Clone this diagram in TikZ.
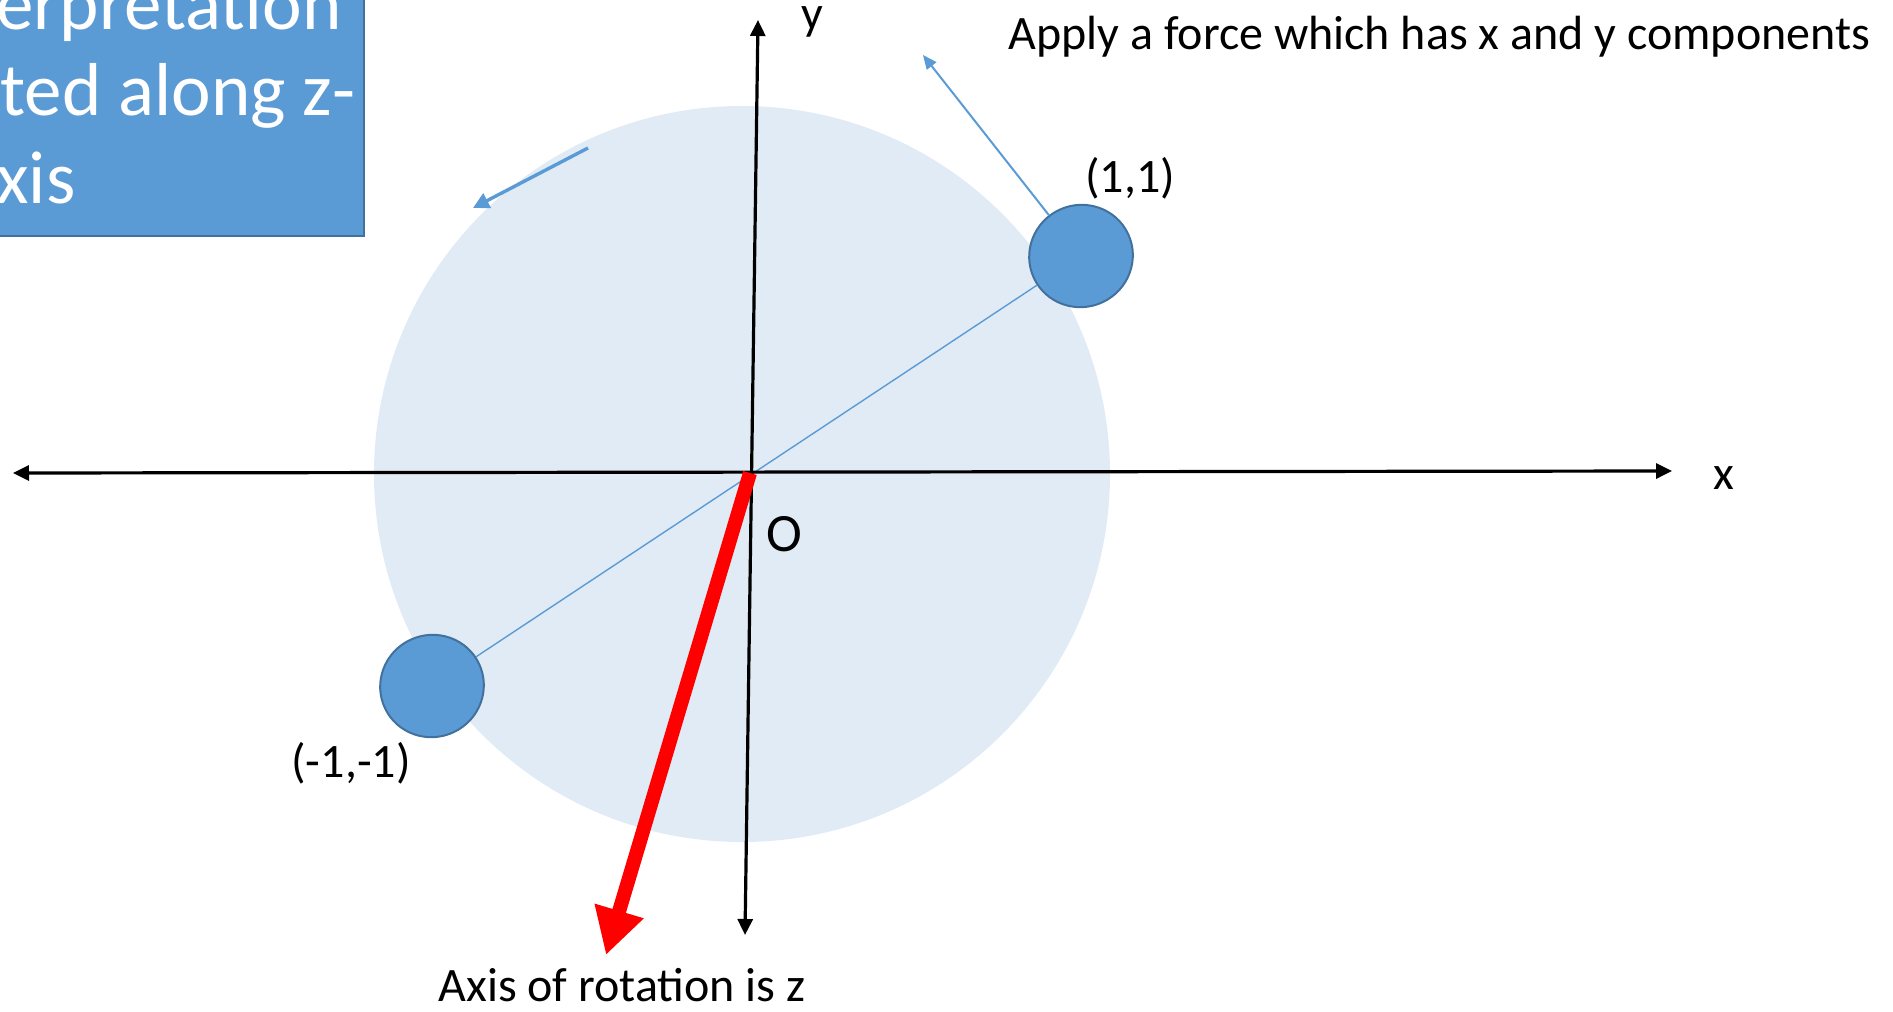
\documentclass[tikz,border=0pt]{standalone}
\usepackage{fontspec}
\setmainfont{Carlito}
\usepackage{tikz}
\usetikzlibrary{shapes.geometric, arrows.meta, positioning, calc}
\definecolor{Office_Blue}{HTML}{5B9BD5}
\definecolor{Office_Edge}{HTML}{41719C}
\definecolor{Disc_Blue}{HTML}{E1EBF6}
\definecolor{Axis_Red}{HTML}{FF0000}

\tikzset{
  axisline/.style={line width=1.6pt, {Triangle[length=8pt,width=7.5pt]}-{Triangle[length=8pt,width=7.5pt]}},
  ball/.style={ellipse, draw=Office_Edge, line width=1pt, fill=Office_Blue, minimum width=52pt, minimum height=51pt, inner sep=0pt},
  lbl/.style={font=\fontsize{24}{28}\selectfont, text=black, inner sep=0pt},
  boxtext/.style={font=\fontsize{37.5}{44}\selectfont, text=white, inner sep=0pt, anchor=base west},
  forcearrow/.style={draw=Office_Blue, line width=1pt, -{Triangle[length=7pt,width=6pt]}},
}

\begin{document}
\begin{tikzpicture}[x=0.5pt, y=-0.5pt]
\useasboundingbox (0,0) rectangle (1893,1011);
\clip (0,0) rectangle (1893,1011);
% --- Rotating disc ---
\fill[Disc_Blue] (742,474) circle (368);
% --- Masses at (1,1) and (-1,-1) ---
\node[ball, rotate=25] (b11) at (1081,256) {};
\node[ball, rotate=25] (bm1) at (432,686) {};
\draw[Office_Blue, line width=0.7pt] (bm1) -- (b11);
\node[lbl] (l11) at (1130,178) {(1,1)};
\node[lbl] (lm1) at (351,763) {(-1,-1)};
% --- Axes ---
\coordinate (xl) at (13,473);
\coordinate (xr) at (1672,471);
\coordinate (yb) at (745,935);
\coordinate (yt) at (758,20);
\draw[axisline] (xl) -- (xr);
\draw[axisline] (yb) -- (yt);
\node[lbl, anchor=base] (xlab) at (1724,489) {x};
\node[lbl, anchor=base] (ylab) at (812,30) {y};
\node[lbl, font=\fontsize{27}{30}\selectfont] (olab) at (784,534) {O};
% --- Forces ---
\coordinate (ftip) at (923,55);
\draw[forcearrow] (b11) -- (ftip);
\coordinate (vs) at (588,148);
\coordinate (ve) at (473,208);
\draw[forcearrow, line width=1.7pt, -{Triangle[length=8pt,width=8pt]}] (vs) -- (ve);
\node[lbl, anchor=base west] (force) at (1008,50) {Apply a force which has x and y components};
% --- Axis of rotation ---
\coordinate (O) at (750,473);
\coordinate (ztip) at (606,955);
\draw[Axis_Red, line width=7pt, -{Triangle[length=23pt,width=24pt]}] (O) -- (ztip);
\node[lbl, anchor=base] (zlab) at (622,1001) {Axis of rotation is z};
% --- Interpretation box ---
\draw[fill=Office_Blue, draw=Office_Edge, line width=1pt] (-10,-10) rectangle (364,236);
\node[boxtext] (t1) at (-4,30) {erpretation};
\node[boxtext] (t2) at (0,116) {ted along z-};
\node[boxtext] (t3) at (-4,203) {xis};
% --- Torque formula ---
\node[anchor=base west, inner sep=0pt, font=\fontsize{56}{60}\selectfont] (tau) at (1580,1051) {$\tau = A1$};
\end{tikzpicture}
\end{document}
